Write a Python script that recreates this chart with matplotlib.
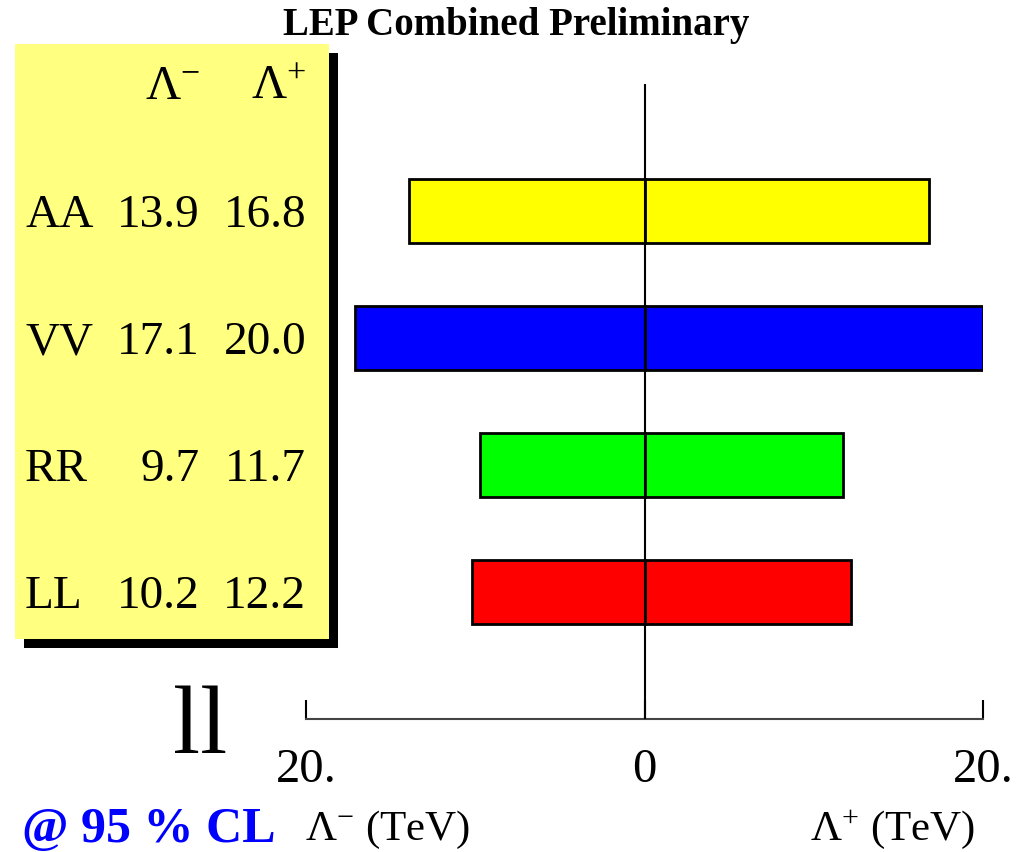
import matplotlib
matplotlib.use("Agg")
import matplotlib.pyplot as plt
from matplotlib.patches import Rectangle

plt.rcParams['font.family'] = ['Liberation Serif', 'DejaVu Serif']
plt.rcParams['mathtext.fontset'] = 'custom'
plt.rcParams['mathtext.rm'] = 'Liberation Serif'
plt.rcParams['mathtext.it'] = 'Liberation Serif:italic'

# limits at 95% CL, bottom row first
models = ["LL", "RR", "VV", "AA"]
lam_minus = [10.2, 9.7, 17.1, 13.9]
lam_plus = [12.2, 11.7, 20.0, 16.8]
colors = ["#ff0000", "#00ff00", "#0000ff", "#ffff00"]
xticks = [-20, 0, 20]
xticklabels = ["20.", "0", "20."]

W, H = 1032, 853
fig = plt.figure(figsize=(W / 100, H / 100), dpi=100)


def fx(x):
    return x / W


def fy(y):
    return 1 - y / H


ax = fig.add_axes([fx(306), fy(720), (983 - 306) / W, (720 - 85) / H])
ypos = list(range(len(models)))
ax.barh(ypos, [-m for m in lam_minus], height=0.5, color=colors,
        edgecolor="black", linewidth=2, zorder=2)
ax.barh(ypos, lam_plus, height=0.5, color=colors,
        edgecolor="black", linewidth=2, zorder=2)
ax.axvline(0, color="black", lw=1.5, zorder=3)
ax.set_xlim(-20, 20)
ax.set_ylim(-1, 4)
for s in ["top", "left", "right"]:
    ax.spines[s].set_visible(False)
ax.spines["bottom"].set_linewidth(1.5)
ax.spines["bottom"].set_color("#444444")
ax.set_yticks([])
ax.set_xticks(xticks)
ax.set_xticklabels(xticklabels, fontsize=35)
ax.tick_params(axis="x", direction="in", length=14, width=1.5, pad=20)
ax.patch.set_alpha(0)

# yellow table box with drop shadow
fig.patches.append(Rectangle((fx(24), fy(649)), (338 - 24) / W, (649 - 54) / H,
                             transform=fig.transFigure, facecolor="black",
                             edgecolor="none", zorder=0))
fig.patches.append(Rectangle((fx(15), fy(640)), (329 - 15) / W, (640 - 45) / H,
                             transform=fig.transFigure, facecolor="#ffff80",
                             edgecolor="none", zorder=1))

fig.text(0.5, fy(26), "LEP Combined Preliminary", ha="center", va="center",
         fontsize=28, fontweight="bold")

fig.text(fx(200), fy(87), r"$\Lambda^{\mathrm{-}}$", ha="right", va="center", fontsize=35)
fig.text(fx(306), fy(87), r"$\Lambda^{+}$", ha="right", va="center", fontsize=35)
for i, m in enumerate(models):
    yc = ax.transData.transform((0, ypos[i]))[1] / H - 4 / H
    fig.text(fx(25), yc, m, ha="left", va="center", fontsize=34)
    fig.text(fx(200), yc, f"{lam_minus[i]:.1f}", ha="right", va="center", fontsize=34)
    fig.text(fx(306), yc, f"{lam_plus[i]:.1f}", ha="right", va="center", fontsize=34)

fig.text(fx(200), fy(730), "ll", ha="center", va="center", fontsize=70)
fig.text(fx(22), fy(830), "@ 95 % CL", ha="left", va="center", fontsize=36,
         fontweight="bold", color="#0000ff")
fig.text(fx(305), fy(830), r"$\Lambda^{\mathrm{-}}$ (TeV)", ha="left", va="center", fontsize=31)
fig.text(fx(975), fy(830), r"$\Lambda^{+}$ (TeV)", ha="right", va="center", fontsize=31)

fig.savefig("out.png", dpi=100)
